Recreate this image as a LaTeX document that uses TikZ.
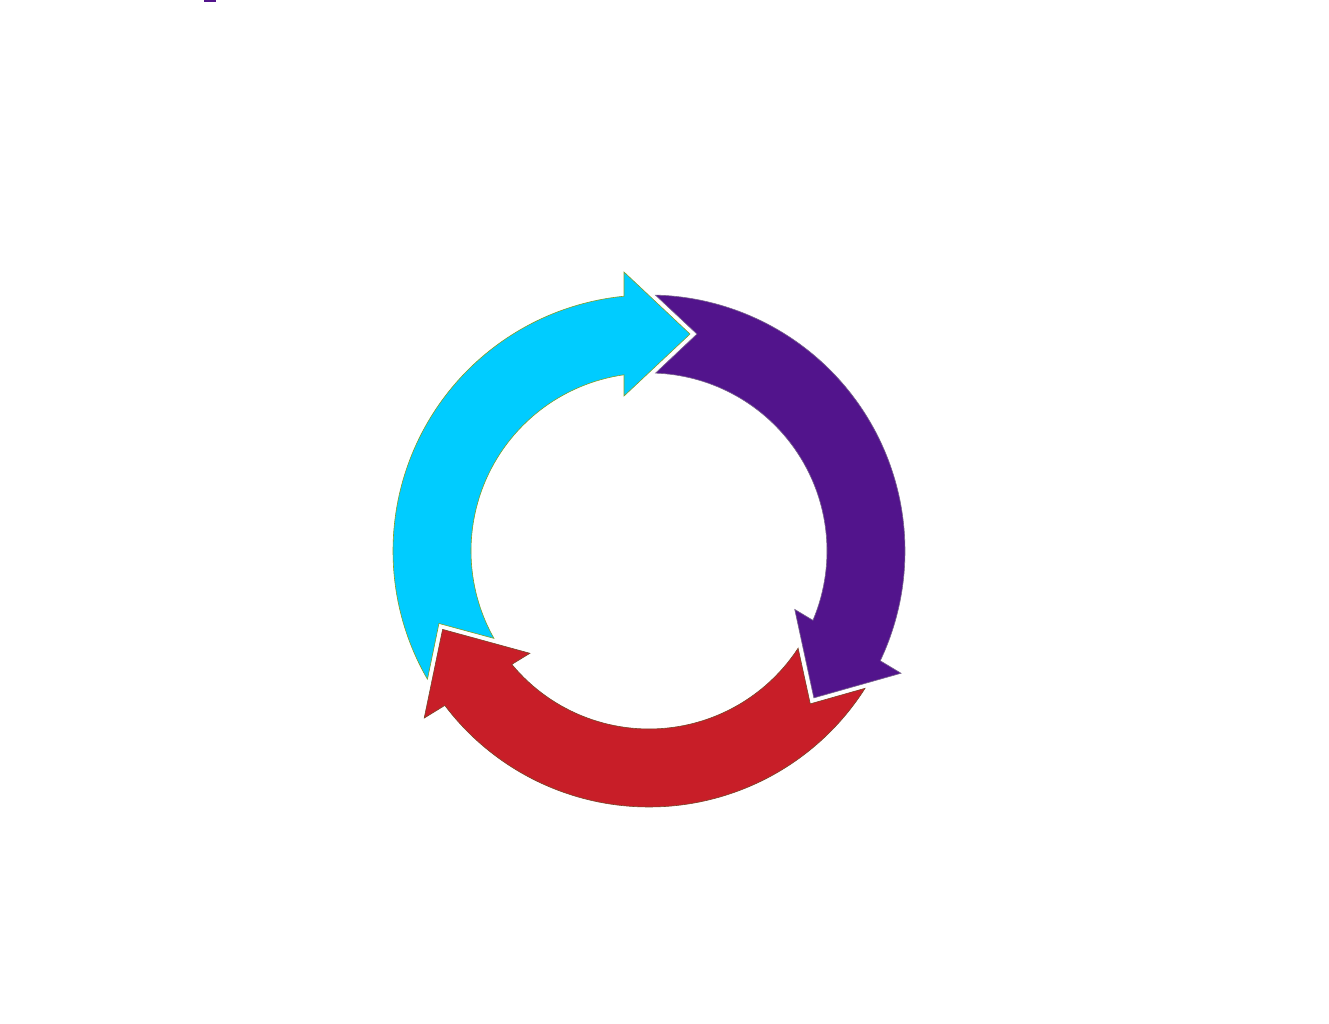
\documentclass[tikz,border=0pt]{standalone}
\definecolor{cyclecyan}{RGB}{0,204,255}
\definecolor{cyclepurple}{RGB}{82,20,140}
\definecolor{cyclered}{RGB}{200,30,40}
\definecolor{edgecyan}{RGB}{130,160,40}
\definecolor{edgepurple}{RGB}{120,100,140}
\definecolor{edgered}{RGB}{120,70,40}
\tikzset{
  cyclearrow/.style={line width=0.6pt, line join=miter}
}
\begin{document}
\begin{tikzpicture}[x=1pt,y=1pt]
\useasboundingbox (0,0) rectangle (1329,1023);
\fill[white] (0,0) rectangle (1329,1023);
\fill[cyclepurple] (204,1020.5) rectangle (216,1023);
\begin{scope}[shift={(649,472)}]
% \t = rotation of this arrow's head, \p = rotation of the previous arrow's head
\foreach \t/\p/\fc/\ec in {0/121.5/cyclecyan/edgecyan, -121/0/cyclepurple/edgepurple, 121.5/239/cyclered/edgered}{
  \filldraw[cyclearrow, fill=\fc, draw=\ec]
    (\p+88.56:256) arc[start angle=\p+88.56, end angle=\t+95.6, radius=256pt]
    -- (\t+95.12:280.1) -- (\t+79.3:220.8) -- (\t+99.16:157)
    -- (\t+98.07:178)
    arc[start angle=\t+98.07, end angle=\p+87.9, radius=178pt]
    -- (\p+77.53:222.2) -- cycle;
}
\end{scope}
\end{tikzpicture}
\end{document}
